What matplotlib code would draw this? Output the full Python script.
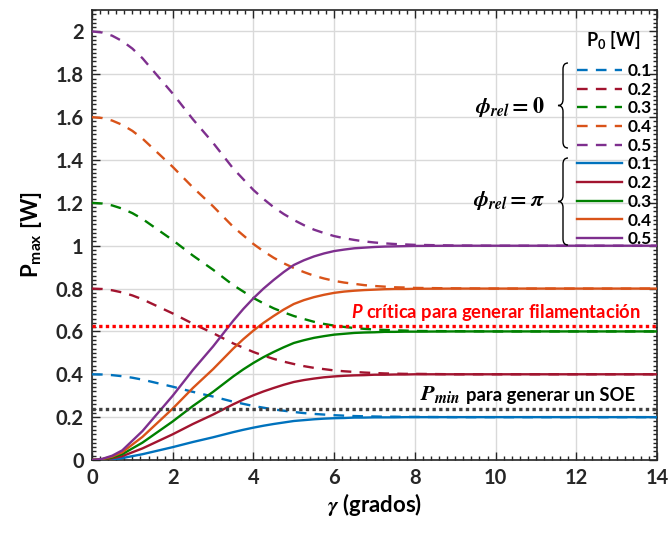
import matplotlib
matplotlib.use('Agg')
import matplotlib.pyplot as plt
from matplotlib.path import Path
from matplotlib.patches import PathPatch
from matplotlib.ticker import MultipleLocator

plt.rcParams['font.family'] = ['Lato', 'DejaVu Sans']
plt.rcParams['font.weight'] = 'bold'
plt.rcParams['mathtext.fontset'] = 'custom'
plt.rcParams['mathtext.rm'] = 'Lato:bold'
plt.rcParams['mathtext.it'] = 'Lato:bold:italic'
plt.rcParams['mathtext.bf'] = 'Lato:bold'

# ---------------- data ----------------
gamma = [0, 0.25, 0.5, 0.75, 1, 1.25, 1.5, 1.75, 2, 2.25, 2.5, 2.75, 3, 3.25, 3.5, 3.75,
         4, 4.25, 4.5, 4.75, 5, 5.25, 5.5, 5.75, 6, 6.25, 6.5, 6.75, 7, 7.25, 7.5, 7.75,
         8, 9, 10, 12, 14]

p0_labels = ['0.1', '0.2', '0.3', '0.4', '0.5']

# phi_rel = 0 (dashed)
dash_01 = [.4, .399, .396, .391, .384, .375, .364, .353, .342, .33, .318, .307, .296, .284, .272, .262,
           .252, .244, .236, .23, .224, .219, .215, .212, .209, .207, .205, .204, .203, .202, .202, .201,
           .201, .2, .2, .2, .2]
dash_02 = [.8, .798, .792, .782, .768, .75, .728, .706, .684, .66, .636, .614, .592, .568, .544, .524,
           .504, .487, .472, .459, .448, .438, .43, .424, .418, .414, .411, .408, .406, .404, .403, .402,
           .402, .4, .4, .4, .4]
dash_03 = [1.2, 1.197, 1.188, 1.173, 1.152, 1.125, 1.092, 1.059, 1.026, .99, .954, .921, .888, .852, .816, .786,
           .756, .731, .708, .689, .672, .658, .645, .635, .627, .621, .616, .612, .609, .607, .605, .604,
           .602, .601, .6, .6, .6]
dash_04 = [1.6, 1.596, 1.584, 1.564, 1.536, 1.5, 1.456, 1.412, 1.368, 1.32, 1.272, 1.228, 1.184, 1.136, 1.088, 1.048,
           1.008, .974, .944, .918, .896, .877, .86, .847, .836, .828, .822, .816, .812, .809, .806, .805,
           .803, .801, .8, .8, .8]
dash_05 = [2.0, 1.995, 1.98, 1.955, 1.92, 1.875, 1.82, 1.765, 1.71, 1.65, 1.59, 1.535, 1.48, 1.42, 1.36, 1.31,
           1.26, 1.218, 1.18, 1.148, 1.12, 1.096, 1.075, 1.059, 1.045, 1.035, 1.027, 1.02, 1.015, 1.011, 1.008, 1.006,
           1.004, 1.001, 1.0, 1.0, 1.0]

# phi_rel = pi (solid)
sol_01 = [0, .001, .004, .009, .018, .027, .038, .049, .06, .072, .084, .095, .106, .118, .13, .141,
          .151, .16, .168, .175, .182, .186, .19, .193, .195, .196, .198, .198, .199, .199, .199, .2,
          .2, .2, .2, .2, .2]
sol_02 = [0, .002, .008, .018, .036, .054, .076, .098, .12, .144, .168, .19, .212, .236, .26, .282,
          .302, .32, .336, .351, .364, .373, .38, .386, .39, .393, .395, .396, .398, .398, .399, .399,
          .4, .4, .4, .4, .4]
sol_03 = [0, .003, .012, .027, .054, .081, .114, .147, .18, .216, .252, .285, .318, .354, .39, .423,
          .453, .48, .504, .526, .546, .559, .57, .578, .585, .589, .593, .595, .596, .598, .598, .599,
          .599, .6, .6, .6, .6]
sol_04 = [0, .004, .016, .036, .072, .108, .152, .196, .24, .288, .336, .38, .424, .472, .52, .564,
          .604, .64, .672, .702, .728, .746, .76, .771, .78, .786, .79, .793, .795, .797, .798, .798,
          .799, .8, .8, .8, .8]
sol_05 = [0, .005, .02, .045, .09, .135, .19, .245, .3, .36, .42, .475, .53, .59, .65, .705,
          .755, .8, .84, .877, .91, .932, .95, .964, .975, .982, .988, .991, .994, .996, .997, .998,
          .999, 1.0, 1.0, 1.0, 1.0]

p_critica = 0.625
p_min = 0.24

xticks = [0, 2, 4, 6, 8, 10, 12, 14]
yticks = [0, 0.2, 0.4, 0.6, 0.8, 1, 1.2, 1.4, 1.6, 1.8, 2]
ytick_labels = ['0', '0.2', '0.4', '0.6', '0.8', '1', '1.2', '1.4', '1.6', '1.8', '2']

colors = ['#0072BD', '#A2142F', '#008000', '#D95319', '#7E2F8E']

# ---------------- figure ----------------
W, H = 670, 550
fig = plt.figure(figsize=(W / 100, H / 100), dpi=100)
ax = fig.add_axes([92 / W, 1 - 460 / H, (657 - 92) / W, (460 - 10) / H])

handles = []
for ys, c in zip([dash_01, dash_02, dash_03, dash_04, dash_05], colors):
    h, = ax.plot(gamma, ys, color=c, lw=1.7, linestyle=(0, (4.5, 3.5)), zorder=3)
    handles.append(h)
for ys, c in zip([sol_01, sol_02, sol_03, sol_04, sol_05], colors):
    h, = ax.plot(gamma, ys, color=c, lw=1.7, zorder=3)
    handles.append(h)

ax.axhline(p_critica, color='#FF0000', lw=2.4, linestyle=(0, (1, 1)), zorder=4)
ax.axhline(p_min, color='#404040', lw=2.4, linestyle=(0, (1, 1)), zorder=4)

ax.set_xlim(0, 14)
ax.set_ylim(0, 2.1)
ax.set_xticks(xticks)
ax.set_xticklabels([str(v) for v in xticks])
ax.set_yticks(yticks)
ax.set_yticklabels(ytick_labels)
ax.xaxis.set_minor_locator(MultipleLocator(0.2))
ax.yaxis.set_minor_locator(MultipleLocator(0.02))
ax.tick_params(which='both', direction='in', top=True, right=True, width=1, colors='#262626')
ax.tick_params(which='major', length=6, labelsize=14.5, pad=6)
ax.tick_params(which='minor', length=3)
for lab in ax.get_xticklabels() + ax.get_yticklabels():
    lab.set_fontweight('bold')
for s in ax.spines.values():
    s.set_linewidth(1.2)
    s.set_color('#262626')
ax.grid(True, which='major', color='#D9D9D9', lw=1.0, zorder=0)
ax.set_axisbelow(True)

ax.set_xlabel(r'$\gamma$ (grados)', fontsize=16, fontweight='bold', math_fontfamily='stix', labelpad=2)
ax.set_ylabel(r'P$_{\mathregular{max}}$ [W]', fontsize=16, fontweight='bold', labelpad=8)

ax.text(13.6, p_critica + 0.015, r'$P$ crítica para generar filamentación', color='#FF0000',
        fontsize=13.2, fontweight='bold', ha='right', va='bottom', zorder=5)
t_soe = ax.text(13.45, p_min + 0.02, 'para generar un SOE', color='black',
                fontsize=13.2, fontweight='bold', ha='right', va='bottom', zorder=5)
ax.annotate(r'$\boldsymbol{P_{min}}$', xy=(0, 0.25), xycoords=t_soe, xytext=(-4, 0),
            textcoords='offset points', ha='right', va='baseline', fontsize=16,
            math_fontfamily='stix', zorder=5)

leg = ax.legend(handles, p0_labels + p0_labels, loc='upper left',
                bbox_to_anchor=(577 / W, 1 - 63 / H), bbox_transform=fig.transFigure,
                frameon=False, fontsize=12.5, handlelength=2.6, handletextpad=0.3,
                labelspacing=0.155, borderpad=0, borderaxespad=0)
for t in leg.get_texts():
    t.set_fontweight('bold')
fig.text(613 / W, 1 - 40 / H, r'P$_0$ [W]', fontsize=13, fontweight='bold',
         ha='center', va='center')


def brace(ytop, ybot, xt, xa, r=6):
    xm = (xt + xa) / 2
    ym = (ytop + ybot) / 2
    pts = [(xa, ytop), (xm, ytop), (xm, ytop + r), (xm, ym - r), (xm, ym), (xt, ym),
           (xm, ym), (xm, ym + r), (xm, ybot - r), (xm, ybot), (xa, ybot)]
    codes = [Path.MOVETO, Path.CURVE3, Path.CURVE3, Path.LINETO, Path.CURVE3, Path.CURVE3,
             Path.CURVE3, Path.CURVE3, Path.LINETO, Path.CURVE3, Path.CURVE3]
    verts = [(x / 100, (H - y) / 100) for x, y in pts]
    p = PathPatch(Path(verts, codes), fill=False, lw=1.0, color='black',
                  transform=fig.dpi_scale_trans, clip_on=False, zorder=6)
    fig.add_artist(p)


brace(63, 148, 558, 568)
brace(158, 245, 558, 568)

fig.text(545 / W, 1 - 107 / H, r'$\boldsymbol{\phi_{rel} = 0}$', fontsize=16,
         math_fontfamily='stix', ha='right', va='center')
fig.text(545 / W, 1 - 201 / H, r'$\boldsymbol{\phi_{rel} = \pi}$', fontsize=16,
         math_fontfamily='stix', ha='right', va='center')

fig.savefig('out.png', dpi=100)
